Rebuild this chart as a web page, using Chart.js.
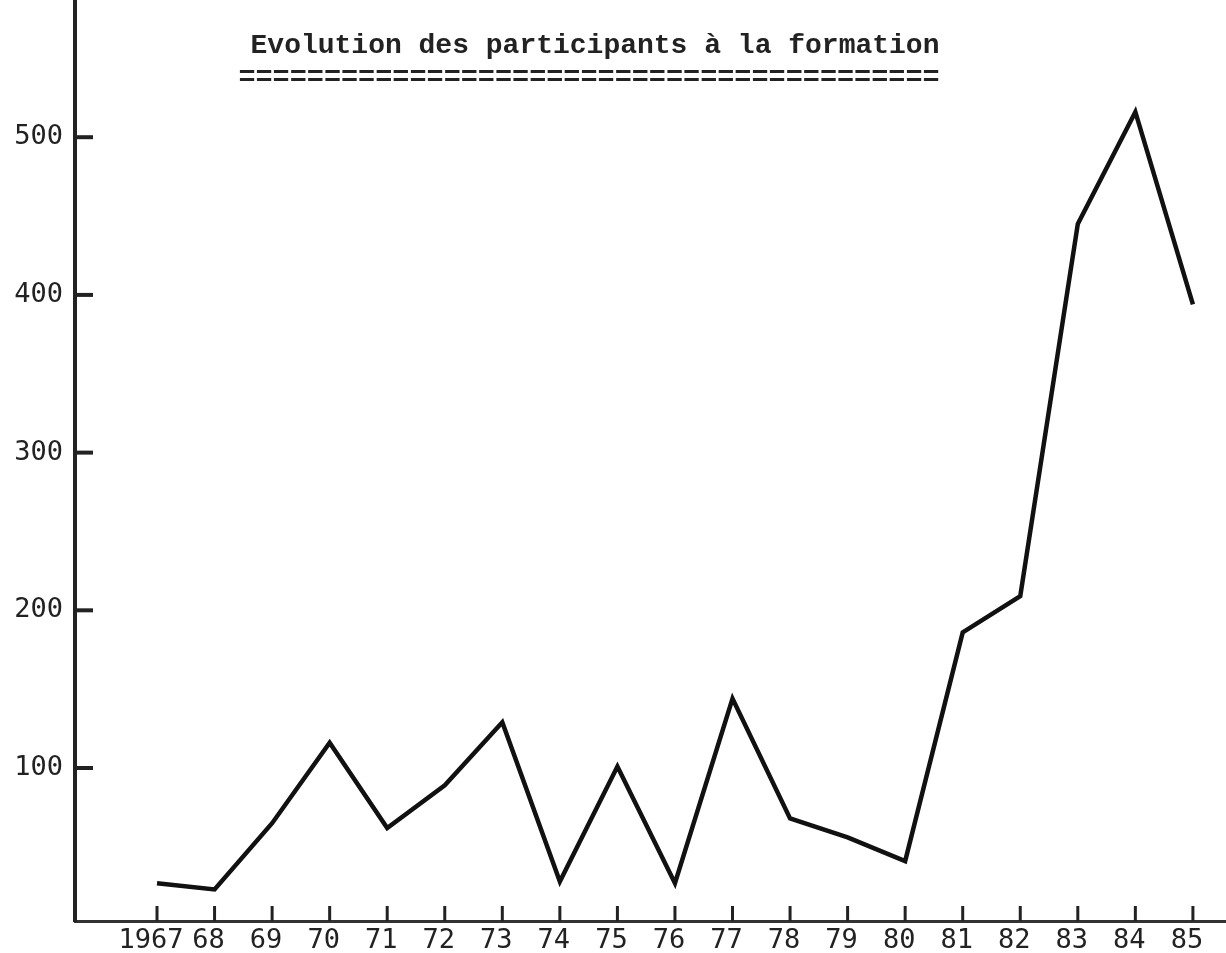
<!DOCTYPE html>
<html>
<head>
<meta charset="utf-8">
<script src="https://cdn.jsdelivr.net/npm/chart.js@4/dist/chart.umd.min.js"></script>
<style>
  html, body { margin: 0; padding: 0; background: #fff; }
  #wrap { width: 1226px; height: 953px; position: relative; }
</style>
</head>
<body>
<div id="wrap"><canvas id="myChart"></canvas></div>
<script>
// données
const years = [1967, 1968, 1969, 1970, 1971, 1972, 1973, 1974, 1975, 1976, 1977, 1978, 1979, 1980, 1981, 1982, 1983, 1984, 1985];
const xLabels = ["1967", "68", "69", "70", "71", "72", "73", "74", "75", "76", "77", "78", "79", "80", "81", "82", "83", "84", "85"];
const participants = [27, 23, 65, 116, 62, 89, 129, 28, 101, 27, 144, 68, 56, 41, 186, 209, 445, 516, 394];
const yTicks = [100, 200, 300, 400, 500];
const titre = "Evolution des participants à la formation";

const ink = "#222";
const monoFont = "'DejaVu Sans Mono', monospace";

// petits traits vers l'intérieur + titre tapé à la machine
const decor = {
  id: "decor",
  afterDraw(chart) {
    const ctx = chart.ctx;
    const area = chart.chartArea;
    const x = chart.scales.x;
    const y = chart.scales.y;
    ctx.save();
    ctx.strokeStyle = ink;
    ctx.lineCap = "butt";
    ctx.lineWidth = 3;
    x.ticks.forEach(function (t) {
      const px = x.getPixelForValue(t.value);
      ctx.beginPath();
      ctx.moveTo(px, area.bottom);
      ctx.lineTo(px, area.bottom - 15);
      ctx.stroke();
    });
    ctx.lineWidth = 4;
    y.ticks.forEach(function (t) {
      const py = y.getPixelForValue(t.value);
      ctx.beginPath();
      ctx.moveTo(area.left, py);
      ctx.lineTo(area.left + 18, py);
      ctx.stroke();
    });

    ctx.fillStyle = ink;
    ctx.textAlign = "center";
    ctx.textBaseline = "alphabetic";
    ctx.font = "bold 28px 'Liberation Mono', monospace";
    ctx.fillText(titre, 595, 53);
    ctx.font = "bold 28.5px 'Liberation Mono', monospace";
    ctx.fillText("=".repeat(titre.length), 589, 85);
    ctx.restore();
  }
};

const ctx = document.getElementById("myChart");
const myChart = new Chart(ctx, {
  type: "line",
  data: {
    datasets: [
      {
        label: "participants",
        data: years.map(function (yr, i) { return { x: yr, y: participants[i] }; }),
        borderColor: "#111",
        borderWidth: 4.5,
        borderJoinStyle: "miter",
        pointRadius: 0,
        tension: 0,
        fill: false
      }
    ]
  },
  options: {
    responsive: true,
    maintainAspectRatio: false,
    animation: false,
    layout: { padding: 0 },
    plugins: {
      legend: { display: false },
      tooltip: { enabled: false },
      title: { display: false }
    },
    scales: {
      x: {
        type: "linear",
        min: 1965.575,
        max: 1985.575,
        grid: { display: false },
        border: { display: true, color: "#333", width: 3 },
        afterBuildTicks: function (scale) {
          scale.ticks = years.map(function (v) { return { value: v }; });
        },
        afterFit: function (scale) {
          scale.height = 32;
          scale.paddingLeft = 0;
          scale.paddingRight = 0;
        },
        ticks: {
          autoSkip: false,
          maxRotation: 0,
          padding: -4,
          labelOffset: -6,
          color: ink,
          font: { family: monoFont, size: 27 },
          callback: function (v) { return xLabels[years.indexOf(v)]; }
        }
      },
      y: {
        type: "linear",
        min: 3,
        max: 587,
        grid: { display: false },
        border: { display: true, color: ink, width: 4 },
        afterBuildTicks: function (scale) {
          scale.ticks = yTicks.map(function (v) { return { value: v }; });
        },
        afterFit: function (scale) {
          scale.width = 75;
          scale.paddingTop = 0;
          scale.paddingBottom = 0;
        },
        ticks: {
          padding: 4,
          color: ink,
          font: { family: monoFont, size: 27 }
        }
      }
    }
  },
  plugins: [decor]
});
</script>
</body>
</html>
